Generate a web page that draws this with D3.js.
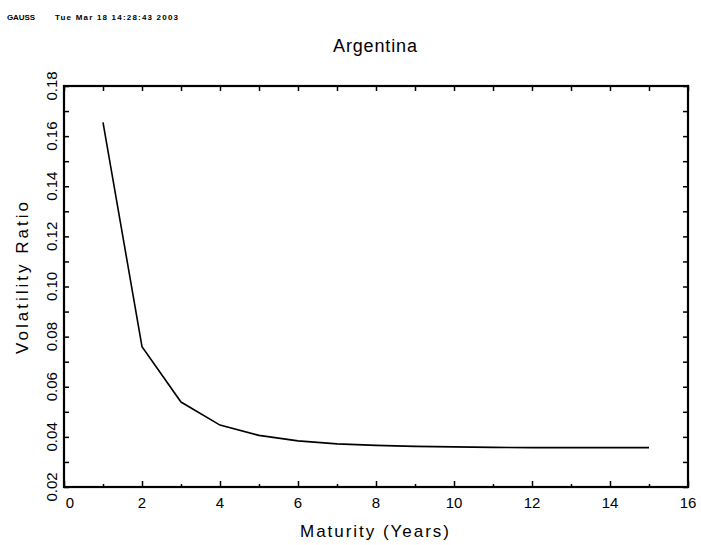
<!DOCTYPE html>
<html>
<head>
<meta charset="utf-8">
<script src="https://cdn.jsdelivr.net/npm/d3@7"></script>
<style>
  body { margin: 0; background: #fff; }
  svg { display: block; font-family: "Liberation Sans", Arial, sans-serif; }
  .axis path { display: none; }
  .axis line { stroke: #000; stroke-width: 1.5; }
</style>
</head>
<body>
<div id="chart"></div>
<script>
// Volatility ratio by maturity
const maturities = [1, 2, 3, 4, 5, 6, 7, 8, 9, 10, 11, 12, 13, 14, 15]
const ratios = [0.1655, 0.0760, 0.0539, 0.0447, 0.0406, 0.0384, 0.0372, 0.0366,
    0.0362, 0.0360, 0.0358, 0.0357, 0.0357, 0.0357, 0.0357]

const xMajor = [0, 2, 4, 6, 8, 10, 12, 14, 16]
const xMinor = [1, 3, 5, 7, 9, 11, 13, 15]
const yMajor = [0.02, 0.04, 0.06, 0.08, 0.10, 0.12, 0.14, 0.16, 0.18]
const yMinor = [0.03, 0.05, 0.07, 0.09, 0.11, 0.13, 0.15, 0.17]

const titleText = "Argentina"
const xTitle = "Maturity (Years)"
const yTitle = "Volatility Ratio"
const stamp = ["GAUSS", "Tue Mar 18 14:28:43 2003"]

const W = 701, H = 545
const margin = { top: 86, right: 13, bottom: 58, left: 64 }
const width = W - margin.left - margin.right,
    height = H - margin.top - margin.bottom

const svg = d3.select("#chart").append("svg")
    .attr("width", W)
    .attr("height", H)

const x = d3.scaleLinear().domain([0, 16]).range([0, width])
const y = d3.scaleLinear().domain([0.02, 0.18]).range([height, 0])

const g = svg.append("g")
    .attr("transform", "translate(" + margin.left + "," + margin.top + ")")

// inward ticks on all four sides
g.append("g").attr("class", "axis")
    .attr("transform", "translate(0," + height + ")")
    .call(d3.axisBottom(x).tickValues(xMajor).tickSize(-6).tickFormat(""))
g.append("g").attr("class", "axis")
    .attr("transform", "translate(0," + height + ")")
    .call(d3.axisBottom(x).tickValues(xMinor).tickSize(-3).tickFormat(""))
g.append("g").attr("class", "axis")
    .call(d3.axisTop(x).tickValues(xMajor.concat(xMinor)).tickSize(-5).tickFormat(""))
g.append("g").attr("class", "axis")
    .call(d3.axisLeft(y).tickValues(yMajor.concat(yMinor)).tickSize(-5).tickFormat(""))
g.append("g").attr("class", "axis")
    .attr("transform", "translate(" + width + ",0)")
    .call(d3.axisRight(y).tickValues(yMajor.concat(yMinor)).tickSize(-5).tickFormat(""))

// frame
g.append("rect")
    .attr("width", width)
    .attr("height", height)
    .attr("fill", "none")
    .attr("stroke", "#000")
    .attr("stroke-width", 2.2)

// tick labels
g.selectAll(".xlab").data(xMajor).join("text")
    .attr("class", "xlab")
    .attr("x", d => x(d) + (d === 0 ? 6 : 0))
    .attr("y", height + 21)
    .attr("text-anchor", "middle")
    .attr("font-size", 15)
    .text(d => d)

g.selectAll(".ylab").data(yMajor).join("text")
    .attr("class", "ylab")
    .attr("transform", d => "translate(-7," + y(d) + ") rotate(-90)")
    .attr("text-anchor", "middle")
    .attr("font-size", 15)
    .text(d3.format(".2f"))

// the curve
g.append("path")
    .datum(maturities.map((m, i) => [m, ratios[i]]))
    .attr("fill", "none")
    .attr("stroke", "#000")
    .attr("stroke-width", 1.6)
    .attr("d", d3.line().x(d => x(d[0])).y(d => y(d[1])))

// titles
svg.append("text")
    .attr("x", 375).attr("y", 52)
    .attr("text-anchor", "middle")
    .attr("font-size", 18)
    .attr("textLength", 84)
    .text(titleText)

svg.append("text")
    .attr("x", 374.5).attr("y", 537)
    .attr("text-anchor", "middle")
    .attr("font-size", 17)
    .attr("textLength", 149)
    .text(xTitle)

svg.append("text")
    .attr("transform", "translate(28,278) rotate(-90)")
    .attr("text-anchor", "middle")
    .attr("font-size", 17)
    .attr("textLength", 152)
    .text(yTitle)

// run stamp in the corner
svg.append("text")
    .attr("x", 7).attr("y", 20)
    .attr("font-size", 8).attr("font-weight", "bold")
    .attr("textLength", 28)
    .text(stamp[0])
svg.append("text")
    .attr("x", 55).attr("y", 20)
    .attr("font-size", 8).attr("font-weight", "bold")
    .attr("textLength", 123)
    .text(stamp[1])
</script>
</body>
</html>
